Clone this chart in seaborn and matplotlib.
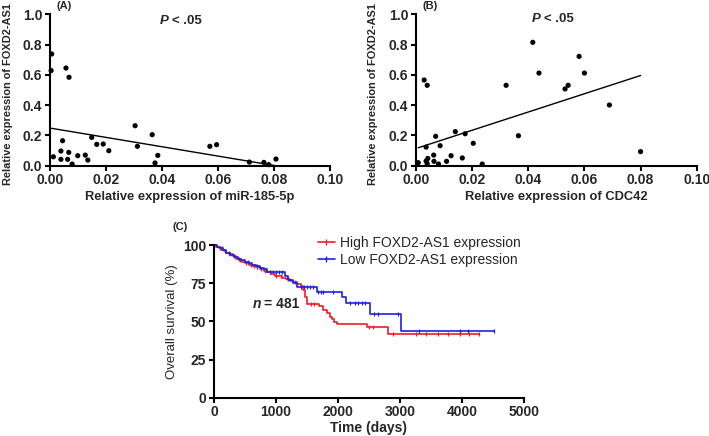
import numpy as np
import pandas as pd
import matplotlib
matplotlib.use("Agg")
import matplotlib.pyplot as plt
from matplotlib.lines import Line2D
import seaborn as sns

# ---------------- data ----------------
# Panel A: miR-185-5p vs FOXD2-AS1
a_x = [0.0006, 0.0004, 0.0057, 0.0068, 0.0012, 0.0039, 0.0045, 0.0039, 0.0063, 0.0067,
       0.0079, 0.0099, 0.0126, 0.0135, 0.0149, 0.0167, 0.0190, 0.0210, 0.0304, 0.0312,
       0.0365, 0.0375, 0.0385, 0.0571, 0.0595, 0.0712, 0.0764, 0.0781, 0.0807]
a_y = [0.738, 0.628, 0.645, 0.584, 0.059, 0.097, 0.165, 0.042, 0.042, 0.088,
       0.011, 0.066, 0.070, 0.037, 0.187, 0.141, 0.143, 0.099, 0.264, 0.128,
       0.205, 0.018, 0.068, 0.128, 0.139, 0.024, 0.022, 0.007, 0.044]

# Panel B: CDC42 vs FOXD2-AS1
b_x = [0.0008, 0.0029, 0.0040, 0.0036, 0.0036, 0.0042, 0.0040, 0.0063, 0.0064, 0.0070,
       0.0080, 0.0086, 0.0109, 0.0125, 0.0140, 0.0165, 0.0175, 0.0204, 0.0236, 0.0321,
       0.0365, 0.0416, 0.0438, 0.0531, 0.0542, 0.0581, 0.0600, 0.0689, 0.0800]
b_y = [0.020, 0.566, 0.531, 0.123, 0.031, 0.048, 0.013, 0.070, 0.029, 0.194,
       0.011, 0.132, 0.029, 0.066, 0.225, 0.051, 0.211, 0.148, 0.011, 0.531,
       0.198, 0.815, 0.612, 0.507, 0.531, 0.722, 0.612, 0.401, 0.093]

scatter_xticks = [0.00, 0.02, 0.04, 0.06, 0.08, 0.10]
scatter_yticks = [0.0, 0.2, 0.4, 0.6, 0.8, 1.0]

# Panel C: Kaplan-Meier step curves
high_t = [0, 40, 80, 120, 160, 200, 250, 300, 350, 400, 450, 500, 560, 620, 680, 740,
          800, 860, 920, 980, 1040, 1100, 1160, 1220, 1280, 1340, 1400, 1430, 1460,
          1500, 1690, 1760, 1820, 1870, 1900, 1940, 1990, 2460, 2800, 4280]
high_s = [100, 99, 98, 97, 96, 95, 94, 92.5, 91, 90, 89, 88, 87, 86, 85.5, 84.5,
          83, 82, 81, 80, 79.5, 78.5, 77.5, 76.5, 75.5, 74.5, 73, 70.5, 66,
          61.4, 60.1, 57.5, 55.3, 53.1, 51.4, 49.8, 48.5, 46.5, 41.5, 41.5]
high_cens = [100, 180, 260, 330, 420, 520, 600, 650, 700, 760, 820, 900, 1000, 1080,
             1200, 1300, 1560, 1620, 2500, 2560, 2880, 3250, 3420, 3620, 3780, 3960,
             4120, 4280]

low_t = [0, 50, 100, 150, 200, 260, 320, 380, 440, 500, 560, 620, 680, 740, 800, 860,
         1150, 1200, 1270, 1340, 1660, 2070, 2130, 2520, 3020, 4520]
low_s = [100, 99, 97.8, 96.5, 95, 93.5, 92, 91, 90, 89, 88, 87, 86, 85, 84, 82.3,
         79.5, 77, 75, 72.7, 69.4, 65.8, 61.8, 54.6, 43.7, 43.7]
low_cens = [130, 250, 400, 550, 700, 900, 950, 1000, 1050, 1100, 1400, 1450, 1500,
            1550, 1600, 1680, 1720, 1760, 1920, 2200, 2270, 2330, 2380, 2440, 2580,
            2640, 2970, 3300, 3970, 4100, 4520]

km_xticks = [0, 1000, 2000, 3000, 4000, 5000]
km_yticks = [0, 25, 50, 75, 100]

legend_labels = ["High FOXD2-AS1 expression", "Low FOXD2-AS1 expression"]
high_color = "#ee1c25"
low_color = "#2020e0"

# ---------------- style ----------------
sns.set_style("ticks")
plt.rcParams["font.family"] = ["Liberation Sans", "DejaVu Sans"]

W, H = 709, 436
fig = plt.figure(figsize=(W / 100, H / 100), dpi=100)


def fx(px):
    return px / W


def fy(py):
    return 1 - py / H


def style_axes(ax, lw=1.5):
    sns.despine(ax=ax)
    for s in ("left", "bottom"):
        ax.spines[s].set_linewidth(lw)
        ax.spines[s].set_color("black")
    ax.tick_params(axis="both", direction="out", length=3.5, width=lw,
                   color="black", pad=2, labelsize=10)
    for lab in ax.get_xticklabels() + ax.get_yticklabels():
        lab.set_fontweight("bold")


def scatter_panel(ax, xs, ys, xlabel):
    df = pd.DataFrame({"x": xs, "y": ys})
    sns.scatterplot(data=df, x="x", y="y", ax=ax, color="black", s=14,
                    edgecolor="none", clip_on=False, zorder=3)
    sns.regplot(data=df, x="x", y="y", ax=ax, scatter=False, ci=None,
                color="black", line_kws={"lw": 1.0}, truncate=True)
    ax.set_xlim(0, 0.10)
    ax.set_ylim(0, 1.0)
    ax.set_xticks(scatter_xticks)
    ax.set_yticks(scatter_yticks)
    ax.set_xticklabels([f"{v:.2f}" for v in scatter_xticks])
    ax.set_yticklabels([f"{v:.1f}" for v in scatter_yticks])
    ax.set_xlabel(xlabel, fontsize=9.3, fontweight="bold")
    ax.set_ylabel("Relative expression of FOXD2-AS1", fontsize=7.9,
                  fontweight="bold")
    style_axes(ax)
    ax.xaxis.set_label_coords(0.5, -0.17)


# Panel A
axA = fig.add_axes([fx(50), fy(165.7), fx(280), (165.7 - 14.3) / H])
scatter_panel(axA, a_x, a_y, "Relative expression of miR-185-5p")
axA.yaxis.set_label_coords((13 - 50) / 280, 0.475)

# Panel B
axB = fig.add_axes([fx(416), fy(165.7), fx(280.7), (165.7 - 14.3) / H])
scatter_panel(axB, b_x, b_y, "Relative expression of CDC42")
axB.yaxis.set_label_coords((378 - 416) / 280.7, 0.475)

# panel letters and P values
fig.text(fx(64.5), fy(6), "(A)", fontsize=8, fontweight="bold", ha="center", va="center")
fig.text(fx(430.5), fy(6), "(B)", fontsize=8, fontweight="bold", ha="center", va="center")
for px, py in ((160, 21.5), (532, 18.5)):
    fig.text(fx(px), fy(py), "P", fontsize=9.5, fontweight="bold", style="italic",
             ha="left", va="center")
    fig.text(fx(px + 11.5), fy(py), "< .05", fontsize=9.5, fontweight="bold",
             ha="left", va="center")

# Panel C
axC = fig.add_axes([fx(214), fy(397.7), fx(310), (397.7 - 245) / H])


def step_value(times, surv, t):
    idx = np.searchsorted(np.asarray(times), t, side="right") - 1
    return np.asarray(surv)[idx]


for times, surv, cens, col in ((high_t, high_s, high_cens, high_color),
                               (low_t, low_s, low_cens, low_color)):
    dfc = pd.DataFrame({"t": times, "s": surv})
    sns.lineplot(data=dfc, x="t", y="s", ax=axC, color=col, lw=1.2,
                 drawstyle="steps-post", estimator=None, clip_on=False)
    dcen = pd.DataFrame({"t": cens, "s": [step_value(times, surv, c) for c in cens]})
    sns.scatterplot(data=dcen, x="t", y="s", ax=axC, color=col, marker="|",
                    s=9, linewidth=0.9, clip_on=False)

axC.set_xlim(0, 5000)
axC.set_ylim(0, 100)
axC.set_xticks(km_xticks)
axC.set_yticks(km_yticks)
axC.set_xlabel("Time (days)", fontsize=10, fontweight="bold")
axC.set_ylabel("Overall survival (%)", fontsize=9.5)
style_axes(axC)
axC.xaxis.set_label_coords(0.5, -0.15)
axC.yaxis.set_label_coords((178 - 214) / 310, 0.5)

fig.text(fx(180), fy(227), "(C)", fontsize=8, fontweight="bold", ha="center", va="center")
fig.text(fx(253), fy(304), "n", fontsize=10, fontweight="bold", style="italic",
         ha="left", va="center")
fig.text(fx(264), fy(304), "= 481", fontsize=10, fontweight="bold",
         ha="left", va="center")

handles = [Line2D([0], [0], color=high_color, lw=1.2, marker="|", markersize=4),
           Line2D([0], [0], color=low_color, lw=1.2, marker="|", markersize=4)]
fig.legend(handles, legend_labels, loc="upper left",
           bbox_to_anchor=(fx(318), fy(236)), frameon=False, fontsize=10,
           handlelength=1.2, handletextpad=0.35, labelspacing=0.2,
           borderaxespad=0, borderpad=0)

fig.savefig("out.png", dpi=100)
